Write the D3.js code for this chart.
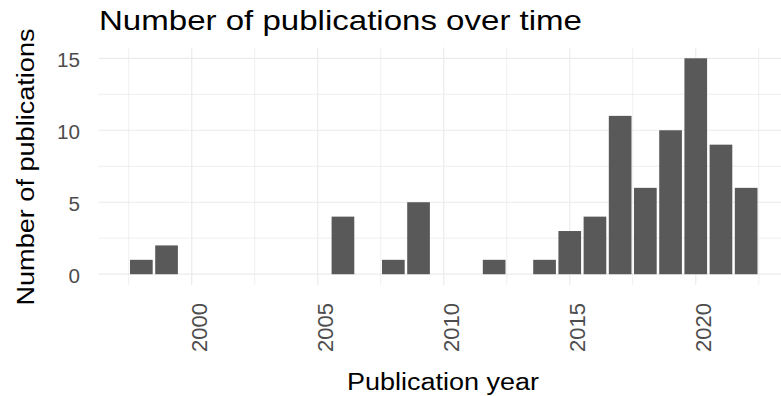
<!DOCTYPE html>
<html><head><meta charset="utf-8">
<script src="https://cdn.jsdelivr.net/npm/d3@7"></script>
<style>body{margin:0;background:#fff}svg{display:block;font-family:"Liberation Sans",Arial,sans-serif}</style>
</head><body><svg id="c" width="781" height="396"></svg>
<script>
const years = [1998, 1999, 2006, 2008, 2009, 2012, 2014, 2015, 2016, 2017, 2018, 2019, 2020, 2021, 2022];
const counts = [1, 2, 4, 1, 5, 1, 1, 3, 4, 11, 6, 10, 15, 9, 6];
const xTicks = [2000, 2005, 2010, 2015, 2020];
const xMinor = [1997.5, 2002.5, 2007.5, 2012.5, 2017.5, 2022.5];
const yTicks = [0, 5, 10, 15];
const yMinor = [2.5, 7.5, 12.5];

const svg = d3.select("#c");
const x = d3.scaleLinear().domain([1996.3, 2023.7]).range([98.5, 789]);
const y = d3.scaleLinear().domain([-0.75, 15.75]).range([285, 47.5]);
const grid = "#ebebeb";

const g = svg.append("g");
g.selectAll(".ymin").data(yMinor).enter().append("line")
  .attr("x1", x.range()[0]).attr("x2", x.range()[1])
  .attr("y1", d => y(d)).attr("y2", d => y(d)).attr("stroke", grid).attr("stroke-width", 0.8);
g.selectAll(".xmin").data(xMinor).enter().append("line")
  .attr("y1", y.range()[0]).attr("y2", y.range()[1])
  .attr("x1", d => x(d)).attr("x2", d => x(d)).attr("stroke", grid).attr("stroke-width", 0.8);
g.selectAll(".ymaj").data(yTicks).enter().append("line")
  .attr("x1", x.range()[0]).attr("x2", x.range()[1])
  .attr("y1", d => y(d)).attr("y2", d => y(d)).attr("stroke", grid).attr("stroke-width", 1.2);
g.selectAll(".xmaj").data(xTicks).enter().append("line")
  .attr("y1", y.range()[0]).attr("y2", y.range()[1])
  .attr("x1", d => x(d)).attr("x2", d => x(d)).attr("stroke", grid).attr("stroke-width", 1.2);

const bw = x(1) - x(0);
svg.selectAll(".bar").data(years).enter().append("rect")
  .attr("x", (d) => x(d - 0.45)).attr("width", bw * 0.9)
  .attr("y", (d, i) => y(counts[i])).attr("height", (d, i) => y(0) - y(counts[i]))
  .attr("fill", "#595959");

// y tick labels
svg.selectAll(".yl").data(yTicks).enter().append("text")
  .attr("x", 80).attr("y", d => y(d) + 8.3)
  .attr("text-anchor", "end").attr("font-size", 19.5).attr("fill", "#4d4d4d")
  .attr("textLength", d => String(d).length * 11.5).attr("lengthAdjust", "spacingAndGlyphs")
  .text(d => d);
// x tick labels
svg.selectAll(".xl").data(xTicks).enter().append("text")
  .attr("transform", d => `translate(${x(d) + 15},303) rotate(-90)`)
  .attr("text-anchor", "end").attr("font-size", 22).attr("fill", "#4d4d4d").text(d => d);

svg.append("text").attr("x", 99).attr("y", 29.5).attr("font-size", 28).attr("fill", "#000")
  .attr("textLength", 483).attr("lengthAdjust", "spacingAndGlyphs")
  .text("Number of publications over time");
svg.append("text").attr("x", 443).attr("y", 389.5)
  .attr("text-anchor", "middle").attr("font-size", 23.5).attr("fill", "#000")
  .attr("textLength", 192).attr("lengthAdjust", "spacingAndGlyphs").text("Publication year");
svg.append("text").attr("transform", `translate(34,167) rotate(-90)`)
  .attr("text-anchor", "middle").attr("font-size", 23.5).attr("fill", "#000")
  .attr("textLength", 277).attr("lengthAdjust", "spacingAndGlyphs").text("Number of publications");
</script></body></html>
